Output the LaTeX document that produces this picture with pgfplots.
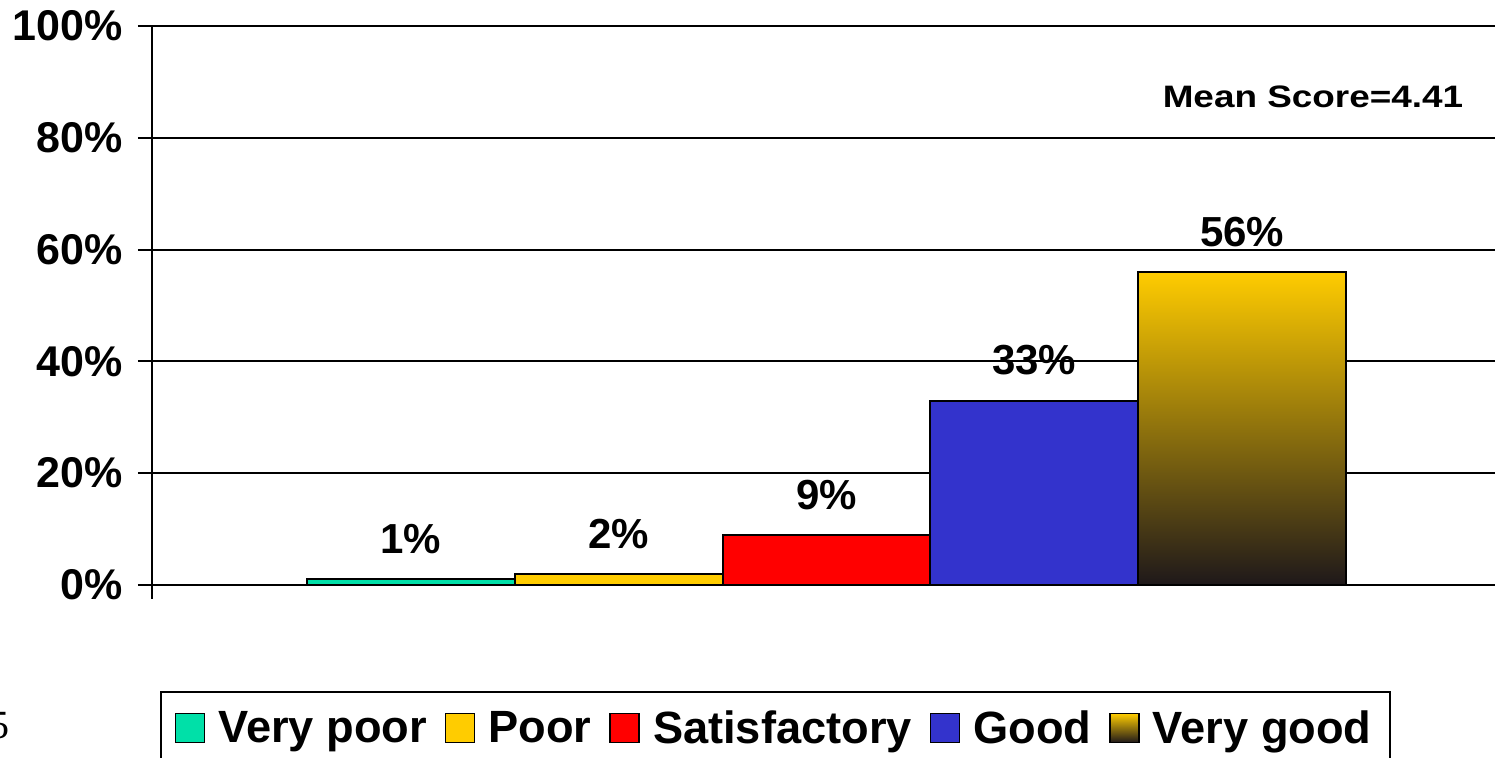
\documentclass[border=0pt]{standalone}
\usepackage{pgfplots}
\pgfplotsset{compat=1.18}
\usepackage{fontspec}
\setmainfont{Liberation Sans}
\newfontfamily\seriffont{Liberation Serif}
\usepackage{graphicx}
\definecolor{cVP}{RGB}{0,224,168}
\definecolor{cP}{RGB}{255,204,0}
\definecolor{cS}{RGB}{255,0,0}
\definecolor{cG}{RGB}{51,51,204}
\definecolor{cVGt}{RGB}{255,204,0}
\definecolor{cVGb}{RGB}{30,24,26}
\begin{document}
\begin{tikzpicture}
\path[use as bounding box] (0,0) rectangle (747.5pt,379pt);
\begin{axis}[
  at={(76pt,86.5pt)}, anchor=south west,
  scale only axis, width=671.5pt, height=279.5pt,
  xmin=-0.246, xmax=6.217, ymin=0, ymax=100,
  axis lines=left, axis line style={-, line width=1pt, black},
  ytick={0,20,...,100}, xtick={-0.246}, xticklabels={},
  ymajorgrids, grid style={line width=1pt, black},
  tick align=outside, major tick length=7pt, tick style={line width=1pt, black},
  /pgf/number format/assume math mode=true,
  yticklabel={\pgfmathprintnumber{\tick}\%},
  yticklabel style={font=\bfseries\fontsize{21.5}{24}\selectfont, xshift=-4pt},
  ybar, bar width=1, bar shift=0pt,
  legend columns=5,
  legend style={at={(0.4640,-0.189)}, anchor=north, draw=black, line width=1pt,
    inner xsep=7pt, inner ysep=7.5pt,
    font=\bfseries\fontsize{22.6}{26}\selectfont,
    /tikz/every odd column/.append style={column sep=4.5pt},
    /tikz/every even column/.append style={column sep=7pt}},
  legend image code/.code={\draw[#1, draw=black, line width=0.8pt] (0pt,-7pt) rectangle (14.5pt,7.5pt);},
]
\addplot[fill=cVP, draw=black, line width=1pt] coordinates {(1,1)};
\addlegendentry{Very poor}
\addplot[fill=cP, draw=black, line width=1pt] coordinates {(2,2)};
\addlegendentry{Poor}
\addplot[fill=cS, draw=black, line width=1pt] coordinates {(3,9)};
\addlegendentry{Satisfactory}
\addplot[fill=cG, draw=black, line width=1pt] coordinates {(4,33)};
\addlegendentry{Good}
\addplot[draw=black, line width=1pt, top color=cVGt, bottom color=cVGb] coordinates {(5,56)};
\addlegendentry{Very good}
\addplot[draw=none, fill=none, forget plot,
  nodes near coords={\pgfmathprintnumber{\pgfplotspointmeta}\%},
  every node near coord/.append style={font=\bfseries\fontsize{21}{24}\selectfont, anchor=center, yshift=20pt, /pgf/number format/assume math mode=true}]
  coordinates {(1,1) (2,2) (3,9) (4,33) (5,56)};
\node[font=\bfseries\fontsize{15.5}{18}\selectfont] at (axis cs:5.341,87.3) {\scalebox{1.19}[1]{Mean Score=4.41}};
\end{axis}
\node[font=\seriffont\fontsize{20}{24}\selectfont, anchor=east, inner sep=0pt] at (5pt,16pt) {5};
\end{tikzpicture}
\end{document}
